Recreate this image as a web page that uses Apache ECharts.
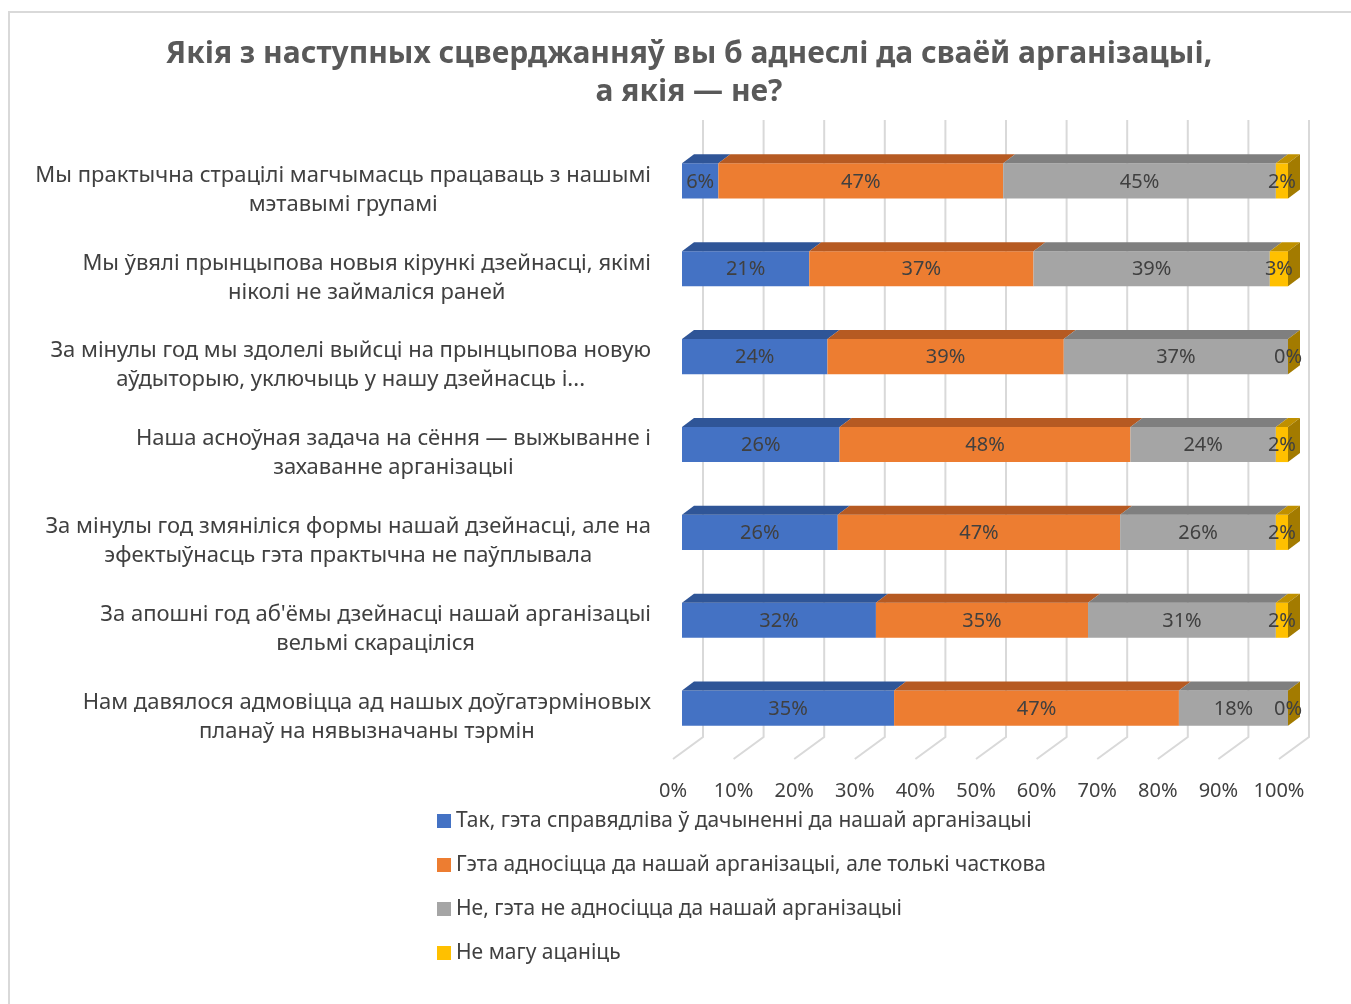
<!DOCTYPE html>
<html>
<head>
<meta charset="utf-8">
<script src="https://cdn.jsdelivr.net/npm/echarts@6/dist/echarts.min.js"></script>
<style>
html,body{margin:0;padding:0;background:#fff;}
#chart{width:1351px;height:1004px;}
</style>
</head>
<body>
<div id="chart"></div>
<script>
// ---- data ----
const titleText = 'Якія з наступных сцверджанняў вы б аднеслі да сваёй арганізацыі,\nа якія — не?';
const categories = [
  'Мы практычна страцілі магчымасць працаваць з нашымі\nмэтавымі групамі',
  'Мы ўвялі прынцыпова новыя кірункі дзейнасці, якімі\nніколі не займаліся раней',
  'За мінулы год мы здолелі выйсці на прынцыпова новую\nаўдыторыю, уключыць у нашу дзейнасць і...',
  'Наша асноўная задача на сёння — выжыванне і\nзахаванне арганізацыі',
  'За мінулы год змяніліся формы нашай дзейнасці, але на\nэфектыўнасць гэта практычна не паўплывала',
  'За апошні год аб\'ёмы дзейнасці нашай арганізацыі\nвельмі скараціліся',
  'Нам давялося адмовіцца ад нашых доўгатэрміновых\nпланаў на нявызначаны тэрмін'
];
const seriesNames = [
  'Так, гэта справядліва ў дачыненні да нашай арганізацыі',
  'Гэта адносіцца да нашай арганізацыі, але толькі часткова',
  'Не, гэта не адносіцца да нашай арганізацыі',
  'Не магу ацаніць'
];
const yesValues     = [6, 21, 24, 26, 25.7, 32, 35];
const partlyValues  = [47, 37, 39, 48, 46.6, 35, 47];
const noValues      = [45, 39, 37, 24, 25.7, 31, 18];
const unsureValues  = [2, 3, 0, 2, 2, 2, 0];
const xTicks = [0, 10, 20, 30, 40, 50, 60, 70, 80, 90, 100];

// ---- styles ----
const FONT = '"Noto Sans", "DejaVu Sans", sans-serif';
const TEXT = '#404040';
const frontColors = ['#4472C4', '#ED7D31', '#A5A5A5', '#FFC000'];
const topColors   = ['#2F5597', '#B65A22', '#7F7F7F', '#BF9000'];
const sideColor   = '#A37B00';
const DX = 12, DY = 9;      // bar depth
const GX = 21;              // back wall offset
const BAR_RATIO = 0.4;

const allValues = [yesValues, partlyValues, noValues, unsureValues];

function stackData(si) {
  return categories.map((c, ci) => {
    let start = 0;
    for (let k = 0; k < si; k++) start += allValues[k][ci];
    return [start, start + allValues[si][ci], ci];
  });
}

function makeBarRender(si) {
  const isLast = si === allValues.length - 1;
  return function (params, api) {
    const s = api.value(0), e = api.value(1), ci = api.value(2);
    const p0 = api.coord([s, ci]);
    const p1 = api.coord([e, ci]);
    const h = api.size([0, 1])[1] * BAR_RATIO;
    const x0 = p0[0], x1 = p1[0], yc = p0[1];
    const yt = yc - h / 2;
    const children = [];
    children.push({
      type: 'rect',
      shape: { x: x0, y: yt, width: x1 - x0, height: h },
      style: { fill: frontColors[si] }
    });
    children.push({
      type: 'polygon',
      shape: { points: [[x0, yt], [x1, yt], [x1 + DX, yt - DY], [x0 + DX, yt - DY]] },
      style: { fill: topColors[si] }
    });
    if (isLast) {
      children.push({
        type: 'polygon',
        shape: { points: [[x1, yt], [x1 + DX, yt - DY], [x1 + DX, yt + h - DY], [x1, yt + h]] },
        style: { fill: sideColor }
      });
    }
    children.push({
      type: 'text',
      z2: 10,
      style: {
        text: Math.round(e - s) + '%',
        x: (x0 + x1) / 2, y: yc + 1,
        align: 'center', verticalAlign: 'middle',
        fontSize: 20, fontFamily: FONT, fill: TEXT
      }
    });
    return { type: 'group', children };
  };
}

const gridSeries = {
  type: 'custom',
  name: '_grid',
  z: 1,
  silent: true,
  data: xTicks.map(v => [v]),
  encode: { x: 0 },
  renderItem: function (params, api) {
    const cs = params.coordSys;
    const x = api.coord([api.value(0), 0])[0];
    const bottom = cs.y + cs.height;
    return {
      type: 'polyline',
      shape: { points: [[x + GX, cs.y - 17], [x + GX, bottom - 15], [x - 9, bottom + 7]] },
      style: { stroke: '#D9D9D9', lineWidth: 2, fill: null }
    };
  }
};

const barSeries = seriesNames.map((name, si) => ({
  type: 'custom',
  name: name,
  z: 2 + si,
  itemStyle: { color: frontColors[si] },
  data: stackData(si),
  encode: { x: [0, 1], y: 2 },
  renderItem: makeBarRender(si)
}));

const chart = echarts.init(document.getElementById('chart'), null, { renderer: 'canvas' });
chart.setOption({
  backgroundColor: '#fff',
  animation: false,
  textStyle: { fontFamily: FONT },
  title: {
    text: titleText,
    left: 684,
    top: 30,
    textAlign: 'center',
    textStyle: { fontSize: 30, fontWeight: 'bold', color: '#595959', lineHeight: 38, fontFamily: FONT }
  },
  graphic: [{
    type: 'rect',
    shape: { x: 9, y: 12, width: 1360, height: 1010 },
    style: { fill: null, stroke: '#D9D9D9', lineWidth: 2 },
    silent: true, z: -10
  }],
  legend: {
    orient: 'vertical',
    left: 432,
    top: 804,
    itemWidth: 14,
    itemHeight: 14,
    itemGap: 20,
    icon: 'rect',
    data: seriesNames,
    textStyle: { fontSize: 21, color: TEXT, fontFamily: FONT, lineHeight: 24 }
  },
  grid: { left: 682, right: 63, top: 137, bottom: 252 },
  xAxis: {
    type: 'value',
    min: 0, max: 100, interval: 10,
    axisLine: { show: false },
    axisTick: { show: false },
    splitLine: { show: false },
    axisLabel: {
      formatter: '{value}%',
      fontSize: 20, color: TEXT, fontFamily: FONT,
      margin: 29,
      padding: [0, 18, 0, 0]
    }
  },
  yAxis: {
    type: 'category',
    inverse: true,
    data: categories,
    axisLine: { show: false },
    axisTick: { show: false },
    splitLine: { show: false },
    axisLabel: {
      margin: 31,
      formatter: function (v) {
        return v.split('\n').map(l => '{c|' + l + '}').join('\n');
      },
      padding: [18, 0, 0, 0],
      rich: {
        c: { align: 'center', fontSize: 22, color: TEXT, fontFamily: FONT, lineHeight: 29 }
      }
    }
  },
  series: [gridSeries].concat(barSeries)
});
</script>
</body>
</html>
